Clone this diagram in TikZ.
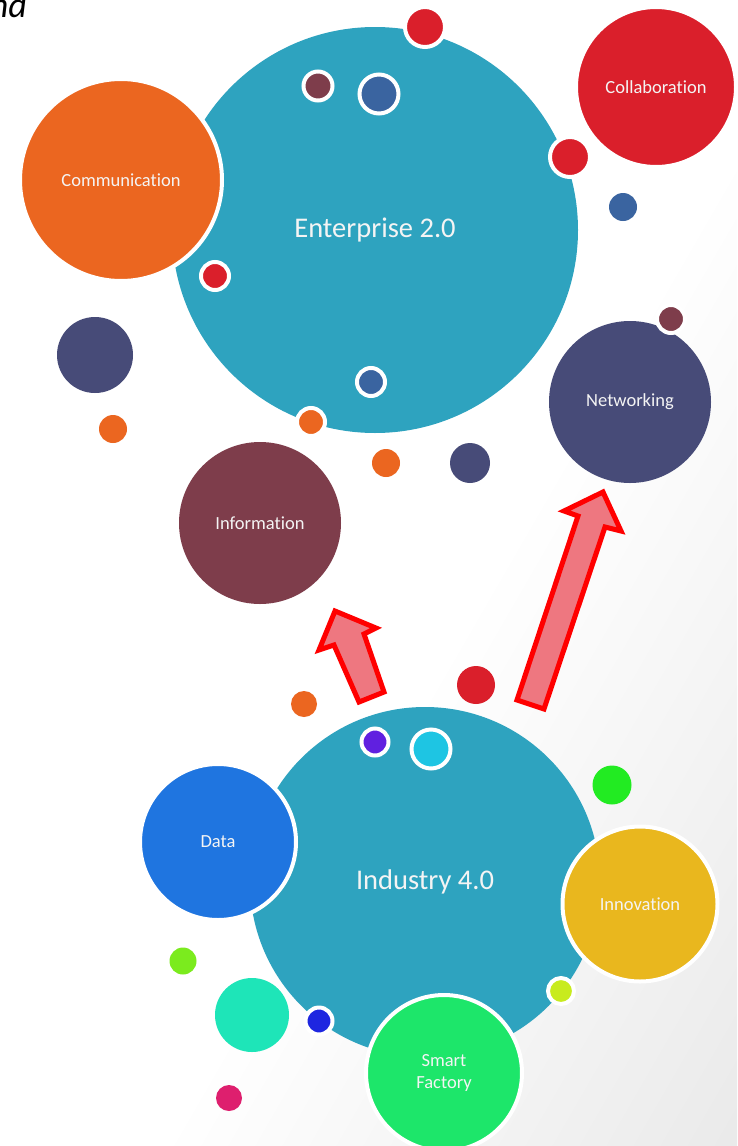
\documentclass[tikz,border=0pt]{standalone}
\usepackage{fontspec}
\setmainfont{Carlito}[Ligatures=NoCommon]
\usetikzlibrary{calc}
\definecolor{teal0}{HTML}{2EA3BF}
\definecolor{orange0}{HTML}{EB6620}
\definecolor{red0}{HTML}{DA1F2B}
\definecolor{navy0}{HTML}{474B78}
\definecolor{maroon0}{HTML}{7E3D4B}
\definecolor{steel0}{HTML}{3A64A0}
\definecolor{data0}{HTML}{1F75E0}
\definecolor{innov0}{HTML}{E9B71E}
\definecolor{smart0}{HTML}{1DE66A}
\definecolor{mint0}{HTML}{1EE5B8}
\definecolor{purple0}{HTML}{6020E0}
\definecolor{cyan0}{HTML}{1EC5E3}
\definecolor{green0}{HTML}{22EB22}
\definecolor{lime0}{HTML}{C8EB1E}
\definecolor{ygreen0}{HTML}{7BEB1E}
\definecolor{dblue0}{HTML}{1E26E0}
\definecolor{magenta0}{HTML}{DE1F6E}
\definecolor{arrowfill}{HTML}{EE7780}
\definecolor{labeltext}{HTML}{F4F4F4}
\pgfdeclarehorizontalshading{bgshade}{100bp}{color(0bp)=(white); color(56bp)=(white); color(100bp)=(black!13)}
\tikzset{
  bubble/.style={circle, inner sep=0pt, minimum size=#1, text=labeltext, align=center},
  ring/.style={draw=white, line width=4pt},
  smalllabel/.style={font=\fontsize{18.5}{22}\selectfont},
  biglabel/.style={font=\fontsize{28.5}{33}\selectfont},
  blockarrow/.style={draw=red, fill=arrowfill, line width=5pt, line join=miter}
}
\begin{document}
\begin{tikzpicture}[x=1pt,y=-1pt]
\useasboundingbox (0,0) rectangle (737,1146);
\shade[shading=bgshade, shading angle=-30] (0,0) rectangle (737,1146);

% partial title text
\node[anchor=base east, inner sep=0pt, font=\fontsize{36}{40}\selectfont\itshape] (title) at (27,17) {nd};

% big hubs
\node[bubble=406pt, fill=teal0, biglabel] (ent) at (375,230) {Enterprise 2.0};
\node[bubble=350pt, fill=teal0, biglabel] (ind) at (425,882) {Industry 4.0};

% satellites of Enterprise 2.0
\node[bubble=202pt, fill=orange0, ring, smalllabel] (comm) at (121,180) {Communication};
\node[bubble=160pt, fill=red0, ring, smalllabel] (coll) at (656,87) {Collaboration};
\node[bubble=162pt, fill=navy0, smalllabel] (net) at (630,402) {Networking};
\node[bubble=162pt, fill=maroon0, smalllabel] (info) at (260,523) {Information};

% satellites of Industry 4.0
\node[bubble=156pt, fill=data0, ring, smalllabel] (data) at (218,842) {Data};
\node[bubble=155pt, fill=innov0, ring, smalllabel] (innov) at (640,904) {Innovation};
\node[bubble=156pt, fill=smart0, ring, smalllabel] (smart) at (444,1073) {Smart\\Factory};
\node[bubble=74pt, fill=mint0] (mint) at (252,1015) {};

% small dots (upper group)
\node[bubble=40pt, fill=red0, ring] (d1) at (425,27) {};
\node[bubble=29pt, fill=maroon0, ring] (d2) at (318,86) {};
\node[bubble=39pt, fill=steel0, ring] (d3) at (379,94) {};
\node[bubble=40pt, fill=red0, ring] (d4) at (570,157) {};
\node[bubble=28pt, fill=steel0] (d5) at (623,207) {};
\node[bubble=28pt, fill=red0, ring] (d6) at (215,276) {};
\node[bubble=76pt, fill=navy0] (d7) at (95,355) {};
\node[bubble=28pt, fill=orange0] (d8) at (113,429) {};
\node[bubble=28pt, fill=steel0, ring] (d9) at (371,382) {};
\node[bubble=28pt, fill=orange0, ring] (d10) at (311,422) {};
\node[bubble=28pt, fill=orange0] (d11) at (386,463) {};
\node[bubble=40pt, fill=navy0] (d12) at (470,463) {};
\node[bubble=28pt, fill=maroon0, ring] (d13) at (671,319) {};

% small dots (lower group)
\node[bubble=26pt, fill=orange0] (d14) at (304,704) {};
\node[bubble=38pt, fill=red0] (d15) at (476,685) {};
\node[bubble=27pt, fill=purple0, ring] (d16) at (375,742) {};
\node[bubble=39pt, fill=cyan0, ring] (d17) at (431,749) {};
\node[bubble=39pt, fill=green0] (d18) at (612,785) {};
\node[bubble=26pt, fill=lime0, ring] (d19) at (561,991) {};
\node[bubble=27pt, fill=ygreen0] (d20) at (183,961) {};
\node[bubble=27pt, fill=dblue0, ring] (d21) at (319,1021) {};
\node[bubble=26pt, fill=magenta0] (d22) at (229,1098) {};

% block arrows from Industry 4.0 upward
\draw[blockarrow] (335,611) -- (376,628) -- (364,634) -- (384,692) -- (359,702) -- (334,645) -- (319,650) -- cycle;
\draw[blockarrow] (603,492) -- (621,531) -- (605,527) -- (544,709) -- (517,700) -- (578,516) -- (564,511) -- cycle;
\end{tikzpicture}
\end{document}
